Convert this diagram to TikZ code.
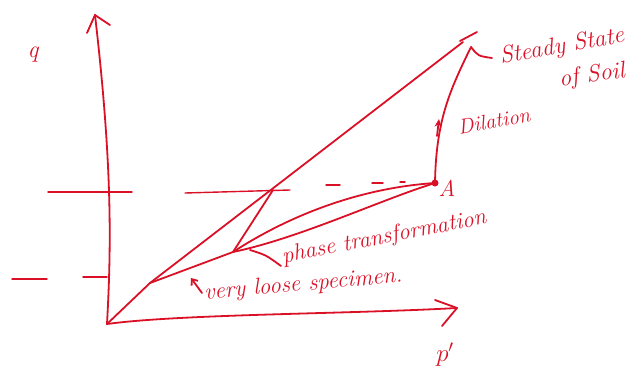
\documentclass[tikz,border=0pt]{standalone}
\usetikzlibrary{arrows.meta}
\definecolor{inkred}{RGB}{218,16,38}
\begin{document}
\begin{tikzpicture}[x=1pt,y=-1pt,line cap=round,line join=round,
  ink/.style={draw=inkred,line width=1.8pt},
  lbl/.style={text=inkred,inner sep=0pt,font=\fontsize{23}{25}\selectfont\itshape},
  biglbl/.style={text=inkred,inner sep=0pt,font=\fontsize{24}{26}\selectfont\itshape}]
\useasboundingbox (0,0) rectangle (630,378);
% key points
\coordinate (O) at (107,324);
\coordinate (Ytip) at (95,15);
\coordinate (Xtip) at (457,308);
\coordinate (L) at (150,283);
\coordinate (S) at (463,42);
\coordinate (P) at (233,252);
\coordinate (Z) at (273,190);
\coordinate (A) at (435,183);
\coordinate (D) at (471,47);
% axes
\draw[ink] (O) .. controls (111,250) and (113,170) .. (Ytip);
\draw[ink] (87,33) -- (Ytip) -- (110,25);
\draw[ink] (O) .. controls (180,314) and (350,314) .. (Xtip);
\draw[ink] (435,300) -- (Xtip) -- (442,326);
\node[biglbl] (qlab) at (33,55) {q};
\node[biglbl] (plab) at (445,355) {$p'$};
% dashed level lines
\draw[ink,line width=1.4pt] (48,192) -- (132,192);
\draw[ink,line width=1.4pt] (185,193) -- (290,190);
\draw[ink,line width=1.4pt] (326,185) -- (340,185);
\draw[ink,line width=1.4pt] (372,183) -- (383,183);
\draw[ink,line width=1.4pt] (400,182) -- (405,182);
\draw[ink,line width=1.4pt] (12,279) -- (47,279);
\draw[ink,line width=1.4pt] (83,277) -- (107,277);
% critical state line
\draw[ink] (O) -- (L) -- (S);
\draw[ink] (460,41) -- (477,32);
% very loose specimen path
\draw[ink] (L) -- (P) -- (Z);
\draw[ink] (P) .. controls (290,215) and (360,188) .. (A);
\draw[ink] (P) .. controls (300,238) and (380,200) .. (A);
\fill[inkred] (A) circle (3.5);
\node[lbl] (alab) at (447,188) {A};
% dilation
\draw[ink] (A) .. controls (436,120) and (450,90) .. (D);
\draw[ink,-{Stealth[length=8pt,width=7pt]}] (437,136) -- (439,119);
\draw[ink] (D) .. controls (478,56) .. (492,58);
\node[lbl,font=\fontsize{21}{23}\selectfont\itshape,rotate=10] (dil) at (494,121) {Dilation};
\node[biglbl,rotate=10] (ss1) at (562,47) {Steady State};
\node[biglbl,rotate=8] (ss2) at (592,76) {of Soil};
% phase transformation
\draw[ink] (250,250) .. controls (266,255) .. (281,266);
\node[lbl,rotate=11,anchor=south west] (ph) at (284,268) {phase transformation};
% very loose specimen
\draw[ink,-{Straight Barb[length=5pt,width=8pt]}] (202,293) -- (191,278);
\node[lbl,rotate=5,anchor=south west] (vl) at (205,304) {very loose specimen.};
\end{tikzpicture}
\end{document}
